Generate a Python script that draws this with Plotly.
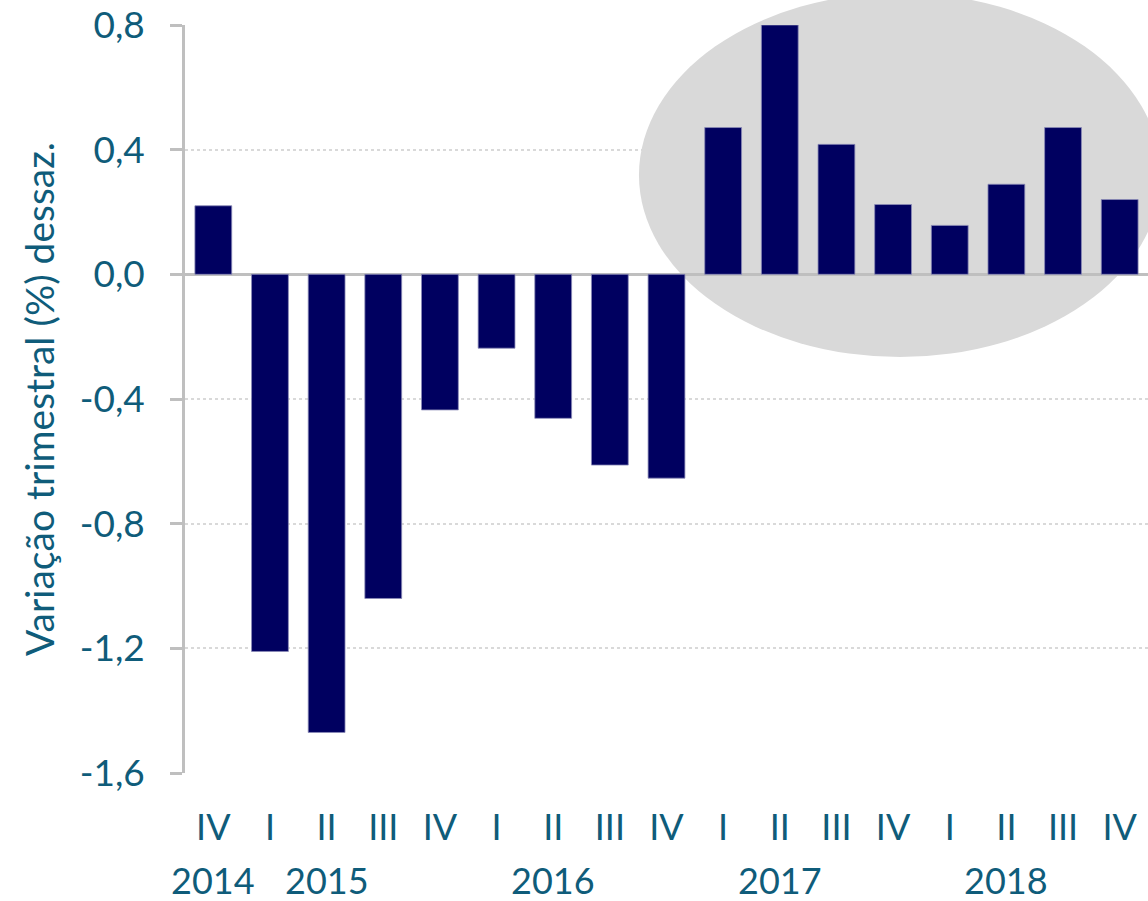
import plotly.graph_objects as go

categories = ["IV 2014", "I 2015", "II 2015", "III 2015", "IV 2015",
              "I 2016", "II 2016", "III 2016", "IV 2016",
              "I 2017", "II 2017", "III 2017", "IV 2017",
              "I 2018", "II 2018", "III 2018", "IV 2018"]
quarters = ["IV", "I", "II", "III", "IV", "I", "II", "III", "IV",
            "I", "II", "III", "IV", "I", "II", "III", "IV"]
values = [0.22, -1.21, -1.47, -1.04, -0.435, -0.237, -0.462, -0.612, -0.654,
          0.471, 0.80, 0.417, 0.224, 0.157, 0.289, 0.471, 0.240]
year_labels = ["2014", "2015", "2016", "2017", "2018"]
year_positions = ["IV 2014", "II 2015", "II 2016", "II 2017", "II 2018"]
y_tickvals = [0.8, 0.4, 0.0, -0.4, -0.8, -1.2, -1.6]
y_ticktext = ["0,8", "0,4", "0,0", "-0,4", "-0,8", "-1,2", "-1,6"]

TXT = "#0f5c7a"
FONT = "Lato"

fig = go.Figure()
fig.add_trace(go.Bar(
    x=categories, y=values,
    marker=dict(color="#000060", line=dict(color="#8c8cb8", width=0.8)),
    hoverinfo="skip",
))

fig.add_shape(type="circle", xref="paper", yref="paper",
              x0=0.4714, x1=1.0135, y0=0.556, y1=1.0428,
              fillcolor="#d9d9d9", line=dict(width=0), layer="below")

for lab, pos in zip(year_labels, year_positions):
    fig.add_annotation(x=pos, y=-0.143, xref="x", yref="paper", text=lab,
                       showarrow=False, yanchor="middle", xanchor="center",
                       font=dict(family=FONT, size=36, color=TXT))

fig.update_layout(
    width=1148, height=901,
    margin=dict(l=185, r=0, t=25, b=128),
    paper_bgcolor="white", plot_bgcolor="white",
    showlegend=False, bargap=0.35,
    font=dict(family=FONT, size=36, color=TXT),
)
fig.update_xaxes(
    type="category", range=[-0.5, 16.5],
    tickvals=categories, ticktext=quarters,
    showgrid=False, showline=False, ticks="", zeroline=False,
    tickfont=dict(family=FONT, size=36, color=TXT),
    ticklabelstandoff=30,
)
fig.update_yaxes(
    range=[-1.6, 0.8], tickvals=y_tickvals, ticktext=y_ticktext,
    showgrid=True, gridcolor="#d9d9d9", griddash="dot", gridwidth=1.5,
    zeroline=True, zerolinecolor="#bfbfbf", zerolinewidth=2.5,
    showline=True, linecolor="#bfbfbf", linewidth=2.5,
    ticks="outside", ticklen=12, tickwidth=2.5, tickcolor="#bfbfbf",
    tickfont=dict(family=FONT, size=37, color=TXT),
    ticklabelstandoff=18,
    title=dict(text="Variação trimestral (%) dessaz.", standoff=14,
               font=dict(family=FONT, size=39, color=TXT)),
)

fig.write_html("out.html", config={"displayModeBar": False},
               post_script="document.body.style.margin='0';document.body.style.overflow='hidden';")
